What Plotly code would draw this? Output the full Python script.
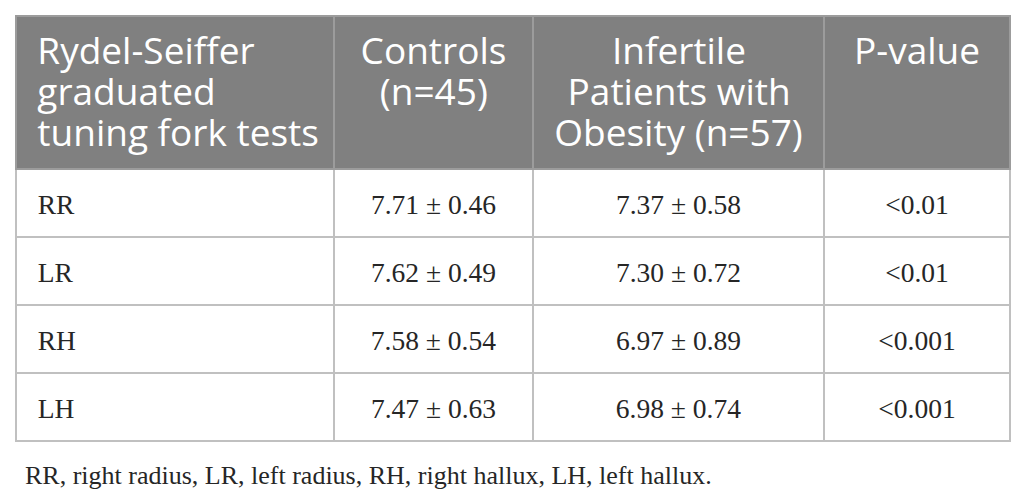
import plotly.graph_objects as go

# ---- data ----
header_lines = [
    ["Rydel-Seiffer", "graduated", "tuning fork tests"],
    ["Controls", "(n=45)"],
    ["Infertile", "Patients with", "Obesity (n=57)"],
    ["P-value"],
]
tests = ["RR", "LR", "RH", "LH"]
controls = ["7.71 ± 0.46", "7.62 ± 0.49", "7.58 ± 0.54", "7.47 ± 0.63"]
patients = ["7.37 ± 0.58", "7.30 ± 0.72", "6.97 ± 0.89", "6.98 ± 0.74"]
p_values = ["<0.01", "<0.01", "<0.001", "<0.001"]
footnote = "RR, right radius, LR, left radius, RH, right hallux, LH, left hallux."

# ---- layout helpers ----
W, H = 1025, 498
OFF = 8  # plotly table inner offset
x0, x1, ytop = 16, 1010, 16
col_widths = [318, 199, 291, 186]

NB = "\u00a0"
HAIR = "\u200a"
HFS = 37        # header glyph size
HLINE = 31.5    # header line spacing base (1.3 em)
CLINE = 25      # body line spacing base
CFS = 27.5      # body glyph size

# leading pads (to centre lines inside a left-anchored block)
header_pads = [
    [NB + HAIR] * 3,
    ["", NB * 2],
    [NB * 6, NB + HAIR, ""],
    [""],
]


def hspan(s):
    return f"<span style='font-size:{HFS}px'>{s}</span>"


header_vals = []
for pads, lines in zip(header_pads, header_lines):
    parts = [hspan(p + ln) for p, ln in zip(pads, lines)]
    if len(parts) == 1:
        parts.append(hspan(NB))  # keep explicit line break (no auto-wrap)
    header_vals.append("<br>".join(parts))


def cell(s, pad=""):
    s = s.replace("<", "&lt;")
    return (f"<span style='font-size:5px'>{NB}</span><br>"
            f"<span style='font-size:{CFS}px'>{pad}{s}</span>")


cell_vals = [
    [cell(t, NB * 2) for t in tests],
    [cell(v) for v in controls],
    [cell(v) for v in patients],
    [cell(v) for v in p_values],
]

fig = go.Figure(go.Table(
    columnwidth=col_widths,
    domain=dict(x=[(x0 - OFF) / W, (x1 - OFF) / W], y=[0, 1 - (ytop - OFF) / H]),
    header=dict(
        values=header_vals,
        fill_color="#808080",
        line_color="#9c9c9c",
        line_width=1.3,
        align=["left", "center", "center", "center"],
        font=dict(family="Open Sans", size=HLINE, color="white"),
        height=153,
    ),
    cells=dict(
        values=cell_vals,
        fill_color="white",
        line_color="#c0c0c0",
        line_width=1.3,
        align=["left", "center", "center", "center"],
        font=dict(family="Liberation Serif", size=CLINE, color="#262626"),
        height=68,
    ),
))

fig.add_annotation(
    text=footnote, xref="paper", yref="paper",
    x=(x0 - 1) / W, y=1 - 467.5 / H, xanchor="left", yanchor="middle",
    showarrow=False,
    font=dict(family="Liberation Serif", size=26, color="#262626"),
)

fig.update_layout(
    width=W, height=H,
    margin=dict(l=0, r=0, t=0, b=0),
    paper_bgcolor="white",
)
fig.write_html("out.html")
